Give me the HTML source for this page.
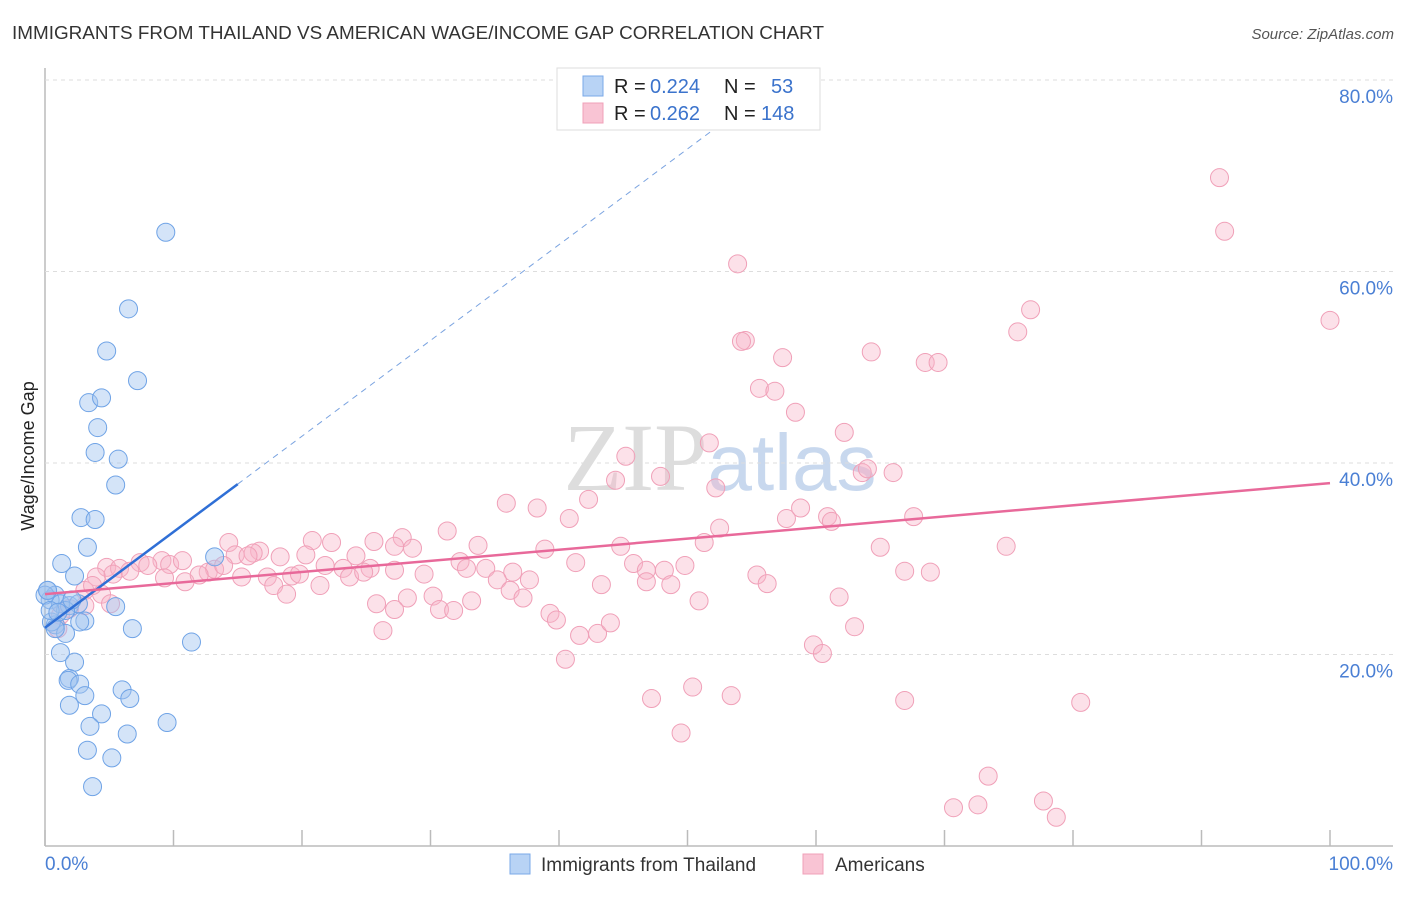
<!DOCTYPE html>
<html><head><meta charset="utf-8"><style>
body{margin:0;background:#fff;font-family:"Liberation Sans",sans-serif}
</style></head><body>
<svg id="c" width="1406" height="892" xmlns="http://www.w3.org/2000/svg" style="font-family:'Liberation Sans',sans-serif">
<text x="12" y="39" font-size="18" fill="#333" textLength="812" lengthAdjust="spacingAndGlyphs">IMMIGRANTS FROM THAILAND VS AMERICAN WAGE/INCOME GAP CORRELATION CHART</text>
<text x="1394" y="39" font-size="15" fill="#555" font-style="italic" text-anchor="end">Source: ZipAtlas.com</text>
<text x="34" y="456" font-size="18" fill="#222" text-anchor="middle" transform="rotate(-90 34 456)">Wage/Income Gap</text>
<text x="720" y="490" font-size="96" fill="#ddd" text-anchor="middle" font-family="Liberation Serif">ZIP<tspan fill="#c8d8ee" font-family="Liberation Sans" font-size="80">atlas</tspan></text>
<g id="grid"></g><g id="pts"></g><g id="trend"></g>
<g>
<rect x="557" y="68" width="263" height="62" fill="#fff" stroke="#ddd"/>
<rect x="583" y="76" width="20" height="20" fill="#b8d3f5" stroke="#7aa8e8"/>
<rect x="583" y="103" width="20" height="20" fill="#f9c4d4" stroke="#f0a0b8"/>
<text x="614" y="93" font-size="20" fill="#222">R =</text>
<text x="650" y="93" font-size="20" fill="#3b73cc">0.224</text>
<text x="724" y="93" font-size="20" fill="#222">N =</text>
<text x="771" y="93" font-size="20" fill="#3b73cc">53</text>
<text x="614" y="120" font-size="20" fill="#222">R =</text>
<text x="650" y="120" font-size="20" fill="#3b73cc">0.262</text>
<text x="724" y="120" font-size="20" fill="#222">N =</text>
<text x="761" y="120" font-size="20" fill="#3b73cc">148</text>
</g>
<g>
<rect x="510" y="854" width="20" height="20" fill="#b8d3f5" stroke="#7aa8e8"/>
<text x="541" y="871" font-size="19" fill="#333">Immigrants from Thailand</text>
<rect x="803" y="854" width="20" height="20" fill="#f9c4d4" stroke="#f0a0b8"/>
<text x="835" y="871" font-size="19" fill="#333">Americans</text>
</g>
</svg>
<script>
const yTicks=[20,40,60,80];
const yTickLabels=["20.0%","40.0%","60.0%","80.0%"];
const xTicks=[0,10,20,30,40,50,60,70,80,90,100];
const blueX=[9.4,6.5,4.8,7.2,3.4,4.4,4.1,3.9,5.7,5.5,2.8,3.9,3.3,1.3,2.3,13.2,0.2,0.8,0.4,1.2,1.9,2.6,1.6,3.1,0.8,1.6,5.5,6.8,11.4,1.2,2.3,1.9,1.8,2.7,3.1,6.0,6.6,1.9,4.4,3.5,9.5,6.4,3.3,5.2,3.7,0.5,0,0.4,1.0,2.1,2.7,0.2,0.8];
const blueY=[64.1,56.1,51.7,48.6,46.3,46.8,43.7,41.1,40.4,37.7,34.3,34.1,31.2,29.5,28.2,30.2,26.7,26.2,25.7,25.3,25.1,25.3,24.6,23.5,23.1,22.2,25.0,22.7,21.3,20.2,19.2,17.5,17.3,16.9,15.7,16.3,15.4,14.7,13.8,12.5,12.9,11.7,10.0,9.2,6.2,23.4,26.2,24.6,24.4,25.7,23.4,26.7,22.7];
const pinkX=[91.4,91.8,53.9,100,76.7,75.7,54.5,54.2,64.3,57.4,68.5,69.5,55.6,56.8,58.4,62.2,51.7,45.2,63.6,64.0,66.0,47.9,44.4,52.2,42.3,35.9,38.3,40.8,57.7,58.8,60.9,61.2,67.6,52.5,31.3,27.8,25.6,33.7,51.3,44.8,38.9,74.8,65.0,14.3,20.8,22.3,27.2,28.6,14.8,16.7,16.2,15.8,20.3,18.3,24.2,9.1,7.4,8.0,9.7,10.7,4.8,5.8,6.6,9.3,10.9,12.7,13.2,12.0,13.9,15.3,17.3,19.2,19.8,21.8,23.2,25.3,23.7,24.8,27.2,29.5,32.3,32.8,34.3,36.4,37.7,41.3,45.8,46.8,48.2,49.8,46.8,43.3,48.7,55.4,56.2,66.9,68.9,4.0,4.4,3.1,3.7,5.3,17.8,18.8,21.4,35.2,36.2,37.2,28.2,25.8,27.2,30.2,30.7,31.8,33.2,39.3,39.8,41.6,43.0,44.0,50.9,61.8,26.3,59.8,60.5,63.0,40.5,50.4,47.2,53.4,66.9,80.6,49.5,73.4,77.7,70.7,72.6,78.7,3.1,1.9,1.2,1.0,5.1];
const pinkY=[69.8,64.2,60.8,54.9,56.0,53.7,52.8,52.7,51.6,51.0,50.5,50.5,47.8,47.5,45.3,43.2,42.1,40.7,39.0,39.4,39.0,38.6,38.2,37.4,36.2,35.8,35.3,34.2,34.2,35.3,34.4,33.9,34.4,33.2,32.9,32.2,31.8,31.4,31.7,31.3,31.0,31.3,31.2,31.7,31.9,31.7,31.3,31.1,30.4,30.8,30.6,30.3,30.4,30.2,30.3,29.8,29.6,29.3,29.4,29.8,29.1,29.0,28.7,28.0,27.6,28.6,28.9,28.3,29.3,28.1,28.1,28.2,28.4,29.3,29.0,29.0,28.1,28.6,28.8,28.4,29.7,29.0,29.0,28.6,27.8,29.6,29.5,28.8,28.8,29.3,27.6,27.3,27.3,28.3,27.4,28.7,28.6,28.1,26.3,26.7,27.2,28.4,27.2,26.3,27.2,27.8,26.7,25.9,25.9,25.3,24.7,26.1,24.7,24.6,25.6,24.3,23.6,22.0,22.2,23.3,25.6,26.0,22.5,21.0,20.1,22.9,19.5,16.6,15.4,15.7,15.2,15.0,11.8,7.3,4.7,4.0,4.3,3.0,25.1,24.8,24.1,22.7,25.3];
const blueTrend=[22.8,1.0];
const pinkTrend=[26.3,0.116];
const NS="http://www.w3.org/2000/svg";
const X0=45,X1=1330,Y0=846,YS=191.5/20;
function xs(v){return X0+(v/100)*(X1-X0);}
function ys(v){return Y0-v*YS;}
function mk(t,a,p){const e=document.createElementNS(NS,t);for(const k in a)e.setAttribute(k,a[k]);p.appendChild(e);return e;}
const grid=document.getElementById('grid');
const ax=mk('line',{x1:X0,y1:68,x2:X0,y2:Y0,stroke:'#bbb','stroke-width':1.5},grid);


const bx=mk('line',{x1:X0,y1:Y0,x2:1393,y2:Y0,stroke:'#bbb','stroke-width':1.5},grid);


yTicks.forEach((v,i)=>{
 const g=mk('line',{x1:X0,y1:ys(v),x2:1393,y2:ys(v),stroke:'#ddd','stroke-dasharray':'4,4'},grid);
 
 
 const t=mk('text',{x:1393,y:ys(v)+23,'font-size':19,fill:'#4a7fd4','text-anchor':'end'},grid);
 t.textContent=yTickLabels[i];
 
 
});
xTicks.forEach(v=>{
 const l=mk('line',{x1:xs(v),y1:Y0,x2:xs(v),y2:Y0-16,stroke:'#bbb','stroke-width':1.5},grid);
 
 
});
const tl=mk('text',{x:45,y:870,'font-size':19,fill:'#4a7fd4'},grid);tl.textContent='0.0%';


const tr=mk('text',{x:1393,y:870,'font-size':19,fill:'#4a7fd4','text-anchor':'end'},grid);tr.textContent='100.0%';


const pts=document.getElementById('pts');
pinkX.forEach((x,i)=>{
 const c=mk('circle',{cx:xs(x),cy:ys(pinkY[i]),r:9,fill:'rgba(248,180,200,0.4)',stroke:'#f0a0b8','stroke-width':1},pts);
 
 
});
blueX.forEach((x,i)=>{
 const c=mk('circle',{cx:xs(x),cy:ys(blueY[i]),r:9,fill:'rgba(160,196,240,0.45)',stroke:'#6fa3e6','stroke-width':1},pts);
 
 
});
const trd=document.getElementById('trend');
const b1=mk('line',{x1:xs(0),y1:ys(blueTrend[0]),x2:xs(15),y2:ys(blueTrend[0]+15*blueTrend[1]),stroke:'#2f6fd6','stroke-width':2.5},trd);


const b2=mk('line',{x1:xs(15),y1:ys(blueTrend[0]+15*blueTrend[1]),x2:xs(54),y2:ys(blueTrend[0]+54*blueTrend[1]),stroke:'#7aa3e0','stroke-width':1,'stroke-dasharray':'6,5'},trd);


const p1=mk('line',{x1:xs(0),y1:ys(pinkTrend[0]),x2:xs(100),y2:ys(pinkTrend[0]+100*pinkTrend[1]),stroke:'#e8699a','stroke-width':2.5},trd);


</script>
</body></html>
